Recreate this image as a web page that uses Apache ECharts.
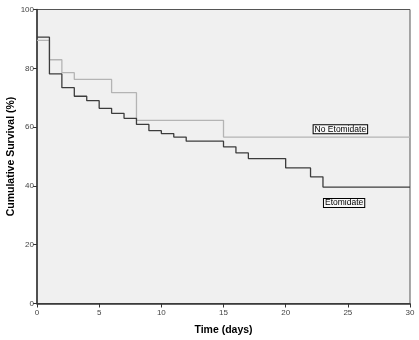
<!DOCTYPE html>
<html>
<head>
<meta charset="utf-8">
<script src="https://cdn.jsdelivr.net/npm/echarts@6/dist/echarts.min.js"></script>
<style>
  html, body { margin: 0; padding: 0; background: #fff; }
  #chart { width: 419px; height: 340px; }
</style>
</head>
<body>
<div id="chart"></div>
<script>
// Kaplan-Meier steps: time (days) and survival (%) after that time
const etoTimes = [0, 1, 2, 3, 4, 5, 6, 7, 8, 9, 10, 11, 12, 15, 16, 17, 20, 22, 23, 30];
const etoSurv = [90.6, 78.1, 73.4, 70.5, 69.0, 66.4, 64.7, 63.0, 60.9, 58.8, 57.8, 56.6, 55.2, 53.3, 51.2, 49.3, 46.1, 43.1, 39.6, 39.6];

const noEtoTimes = [0, 1, 2, 3, 6, 8, 15, 30];
const noEtoSurv = [89.5, 82.9, 78.5, 76.2, 71.7, 62.3, 56.6, 56.6];

const xTicks = [0, 5, 10, 15, 20, 25, 30];
const yTicks = [0, 20, 40, 60, 80, 100];

const labelNames = ["No Etomidate", "Etomidate"];
const labelAt = [[24.4, 59.3], [24.7, 34.2]];

const chart = echarts.init(document.getElementById("chart"));

function pairs(xs, ys) {
  return xs.map((x, i) => [x, ys[i]]);
}

function boxLabel(name, coord) {
  return {
    symbol: "circle",
    symbolSize: 1,
    silent: true,
    itemStyle: { color: "rgba(0,0,0,0)" },
    data: [{
      coord: coord,
      label: {
        show: true,
        formatter: name,
        position: "inside",
        color: "#000",
        fontFamily: "Liberation Sans, Arial, sans-serif",
        fontSize: 8.5,
        backgroundColor: "#f8f8f8",
        borderColor: "#000",
        borderWidth: 1,
        padding: [0, 1, -1, 1],
      },
    }],
  };
}

const axisText = {
  color: "#444",
  fontFamily: "Liberation Sans, Arial, sans-serif",
  fontSize: 8,
};

const option = {
  animation: false,
  grid: {
    left: 37,
    right: 9,
    top: 9.5,
    bottom: 36.5,
    containLabel: false,
    outerBoundsMode: "none",
    show: true,
    backgroundColor: "#f0f0f0",
    borderColor: "#555",
    borderWidth: 1,
  },
  xAxis: {
    type: "value",
    min: 0,
    max: 30,
    interval: 5,
    name: "Time (days)",
    nameLocation: "middle",
    nameGap: 21,
    nameMoveOverlap: false,
    nameTextStyle: {
      color: "#000",
      fontWeight: "bold",
      fontSize: 10.5,
      fontFamily: "Liberation Sans, Arial, sans-serif",
    },
    axisLine: { lineStyle: { color: "#333", width: 1.5 } },
    axisTick: { length: 4, lineStyle: { color: "#333" } },
    axisLabel: Object.assign({ margin: 5, formatter: (v) => (xTicks.includes(v) ? v : "") }, axisText),
    splitLine: { show: false },
  },
  yAxis: {
    type: "value",
    min: 0,
    max: 100,
    interval: 20,
    name: "Cumulative Survival (%)",
    nameLocation: "middle",
    nameGap: 20,
    nameMoveOverlap: false,
    nameTextStyle: {
      color: "#000",
      fontWeight: "bold",
      fontSize: 10.5,
      fontFamily: "Liberation Sans, Arial, sans-serif",
    },
    axisLine: { lineStyle: { color: "#333", width: 1.5 } },
    axisTick: { length: 4, lineStyle: { color: "#333" } },
    axisLabel: Object.assign({ margin: 3, formatter: (v) => (yTicks.includes(v) ? v : "") }, axisText),
    splitLine: { show: false },
  },
  series: [
    {
      name: labelNames[0],
      type: "line",
      step: "end",
      symbol: "none",
      data: pairs(noEtoTimes, noEtoSurv),
      lineStyle: { color: "#b4b4b4", width: 1.3 },
      markPoint: boxLabel(labelNames[0], labelAt[0]),
      z: 2,
    },
    {
      name: labelNames[1],
      type: "line",
      step: "end",
      symbol: "none",
      data: pairs(etoTimes, etoSurv),
      lineStyle: { color: "#3c3c3c", width: 1.3 },
      markPoint: boxLabel(labelNames[1], labelAt[1]),
      z: 3,
    },
  ],
};

chart.setOption(option);
</script>
</body>
</html>
